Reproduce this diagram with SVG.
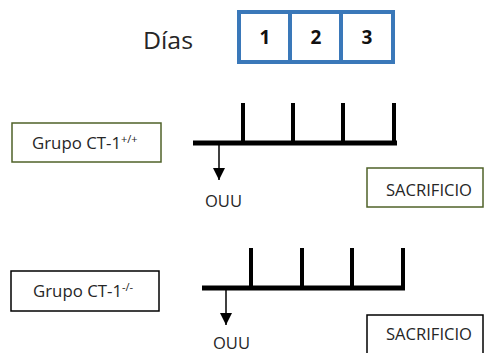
<svg xmlns="http://www.w3.org/2000/svg" width="484" height="353" viewBox="0 0 484 353">
  <style>
    .lbl { font-family: "Open Sans", "Liberation Sans", sans-serif; fill: #262626; }
    .day { font-family: "Open Sans", "Liberation Sans", sans-serif; font-weight: bold; font-size: 19px; fill: #111; text-anchor: middle; }
    .axis { stroke: #000; stroke-width: 5; fill: none; }
    .tick { stroke: #000; stroke-width: 4; fill: none; }
    .thin { stroke: #000; stroke-width: 1.5; fill: none; }
    .green { fill: #fff; stroke: #4f6228; stroke-width: 1.5; }
    .black { fill: #fff; stroke: #000; stroke-width: 1.5; }
  </style>
  <defs>
    <marker id="arrow" markerUnits="userSpaceOnUse" markerWidth="14" markerHeight="14" refX="12" refY="7" orient="auto">
      <path d="M0,1 L12,7 L0,13 Z" fill="#000"/>
    </marker>
  </defs>
  <rect width="484" height="353" fill="#fff"/>

  <!-- day header -->
  <g id="dias">
    <text class="lbl" x="143" y="49" font-size="23" textLength="50" lengthAdjust="spacingAndGlyphs">Días</text>
    <rect x="239" y="12" width="154" height="50" fill="#fff" stroke="#3a78b9" stroke-width="4"/>
    <line x1="290" y1="12" x2="290" y2="62" stroke="#3a78b9" stroke-width="4"/>
    <line x1="341" y1="12" x2="341" y2="62" stroke="#3a78b9" stroke-width="4"/>
    <text class="day" x="265" y="44">1</text>
    <text class="day" x="316" y="44">2</text>
    <text class="day" x="367" y="44">3</text>
  </g>

  <!-- group nodes -->
  <g id="grupo-wt">
    <rect class="green" x="12" y="123" width="149" height="39"/>
    <text class="lbl" x="32" y="149" font-size="17"><tspan textLength="89" lengthAdjust="spacingAndGlyphs">Grupo CT-1</tspan><tspan font-size="11" dy="-6">+/+</tspan></text>
  </g>
  <g id="grupo-ko">
    <rect class="black" x="11" y="271" width="148" height="40"/>
    <text class="lbl" x="33" y="297" font-size="17"><tspan textLength="89" lengthAdjust="spacingAndGlyphs">Grupo CT-1</tspan><tspan font-size="11" dy="-6">-/-</tspan></text>
  </g>

  <g id="sacrificio-wt">
    <rect class="green" x="367" y="168" width="116" height="39"/>
    <text class="lbl" x="386" y="196" font-size="17" textLength="86" lengthAdjust="spacingAndGlyphs">SACRIFICIO</text>
  </g>
  <g id="sacrificio-ko">
    <rect class="black" x="367" y="315" width="116" height="44"/>
    <text class="lbl" x="386" y="340" font-size="17" textLength="86" lengthAdjust="spacingAndGlyphs">SACRIFICIO</text>
  </g>

  <g id="ouu-wt">
    <text class="lbl" x="205" y="207" font-size="16" textLength="37" lengthAdjust="spacingAndGlyphs">OUU</text>
  </g>
  <g id="ouu-ko">
    <text class="lbl" x="213" y="349" font-size="16" textLength="37" lengthAdjust="spacingAndGlyphs">OUU</text>
  </g>

  <!-- timelines -->
  <g id="connectors">
    <line class="axis" x1="193" y1="143" x2="397" y2="143"/>
    <line class="tick" x1="243" y1="103" x2="243" y2="143"/>
    <line class="tick" x1="293" y1="103" x2="293" y2="143"/>
    <line class="tick" x1="343" y1="103" x2="343" y2="143"/>
    <line class="tick" x1="394" y1="103" x2="394" y2="145"/>
    <line class="thin" x1="219" y1="145" x2="219" y2="180" marker-end="url(#arrow)"/>

    <line class="axis" x1="202" y1="288" x2="405" y2="288"/>
    <line class="tick" x1="251" y1="248" x2="251" y2="288"/>
    <line class="tick" x1="302" y1="248" x2="302" y2="288"/>
    <line class="tick" x1="352" y1="248" x2="352" y2="288"/>
    <line class="tick" x1="403" y1="248" x2="403" y2="290"/>
    <line class="thin" x1="226" y1="290" x2="226" y2="325" marker-end="url(#arrow)"/>
  </g>
</svg>
